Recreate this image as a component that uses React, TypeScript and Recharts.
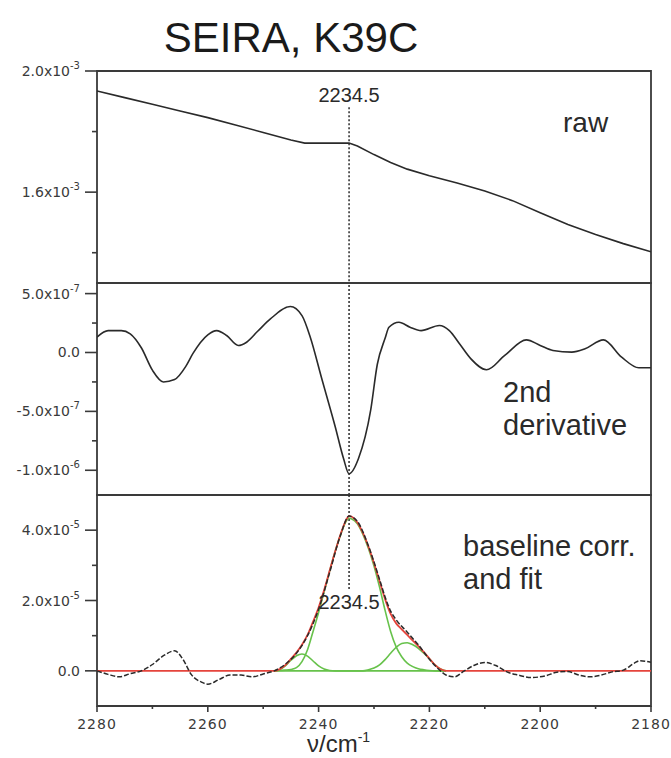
import React from "react";
import { LineChart, Line, XAxis, YAxis, ReferenceLine, ReferenceArea } from "recharts";

// wavenumber axis (cm-1), drawn high -> low
const X_DOMAIN: [number, number] = [2180, 2280];
const X_TICKS = [2280, 2270, 2260, 2250, 2240, 2230, 2220, 2210, 2200, 2190, 2180];
const X_LABELED = [2280, 2260, 2240, 2220, 2200, 2180];
const PEAK = 2234.5;

// raw spectrum, units of 10^-3
const rawSpectrum: [number, number][] = [
  [2280, 1.934], [2275, 1.912], [2270, 1.89], [2265, 1.868], [2260, 1.846], [2255, 1.822],
  [2250, 1.797], [2245, 1.772], [2242.5, 1.762], [2234.5, 1.762], [2233, 1.752], [2230, 1.724],
  [2227, 1.698], [2224, 1.676], [2220, 1.654], [2215, 1.63], [2210, 1.604], [2205, 1.572],
  [2200, 1.532], [2195, 1.493], [2190, 1.46], [2185, 1.43], [2180, 1.403],
];
const RAW_DOMAIN: [number, number] = [1.3, 2.0];
const RAW_TICKS = [1.4, 1.6, 1.8, 2.0];
const RAW_LABELED = [1.6, 2.0];

// second derivative, units of 10^-7
const secondDerivative: [number, number][] = [
  [2280, 1.3], [2278, 1.86], [2275.6, 1.86], [2274, 1.58], [2272, 0.4], [2270, -1.5], [2268, -2.5],
  [2266, -2.3], [2264, -1.2], [2262.7, -0.1], [2260, 1.5], [2258.4, 1.86], [2256.6, 1.44],
  [2254.5, 0.59], [2253, 0.87], [2251, 1.8], [2248.7, 2.85], [2245.1, 3.9], [2243, 3.13],
  [2241.5, 1.3], [2239.5, -2.1], [2237, -6.3], [2235.5, -9.0], [2234.5, -10.3], [2232.8, -9.0],
  [2230.6, -4.9], [2229.4, -1.0], [2228, 1.2], [2227.3, 2.14], [2225.5, 2.57], [2223.5, 2.15],
  [2221.5, 1.86], [2218.2, 2.29], [2216.4, 1.86], [2214.5, 0.7], [2212.5, -0.54], [2209.7, -1.47],
  [2206.4, -0.25], [2202.5, 1.07], [2200, 0.6], [2197.7, 0.17], [2194.3, 0.03], [2191.9, 0.31],
  [2188.6, 1.07], [2185.3, -0.4], [2182.2, -1.3], [2180, -1.3],
];
const DERIV_DOMAIN: [number, number] = [-12.1, 5.9];
const DERIV_TICKS = [5, 2.5, 0, -2.5, -5, -7.5, -10];
const DERIV_LABELED = [5, 0, -5, -10];

// baseline corrected absorbance, units of 10^-5
const corrected: [number, number][] = [
  [2280, 0], [2278, -0.1], [2276, -0.17], [2274, -0.08], [2272, 0], [2270, 0.18], [2268, 0.43],
  [2266, 0.57], [2264.5, 0.33], [2263, -0.1], [2261, -0.33], [2260, -0.38], [2258, -0.25],
  [2256, -0.12], [2254, -0.12], [2252, -0.17], [2250, -0.09], [2248, 0], [2246, 0.19], [2244, 0.5],
  [2242, 1.0], [2240, 1.75], [2238, 2.8], [2236, 3.88], [2234.5, 4.4], [2233, 4.25], [2231, 3.55],
  [2229, 2.6], [2228, 2.1], [2227, 1.7], [2226, 1.45], [2224, 1.1], [2222, 0.74], [2220, 0.33],
  [2218, 0], [2217, -0.12], [2215.5, -0.17], [2213.7, 0], [2212, 0.15], [2210, 0.24], [2208, 0.15],
  [2206, -0.03], [2204, -0.12], [2201.6, -0.19], [2199, -0.14], [2197, -0.04], [2195, -0.02],
  [2193, -0.12], [2191, -0.17], [2189, -0.12], [2187, -0.03], [2185, 0.02], [2183, 0.22],
  [2182, 0.29], [2180, 0.24],
];
const fitEnvelope: [number, number][] = [
  [2280, 0], [2248, 0], [2247, 0.05], [2246, 0.16], [2245, 0.34], [2244, 0.52], [2243, 0.74],
  [2242, 1.02], [2241, 1.4], [2240, 1.8], [2239, 2.3], [2238, 2.85], [2237, 3.4], [2236, 3.9],
  [2235, 4.3], [2234.5, 4.4], [2234, 4.38], [2233, 4.22], [2232, 3.92], [2231, 3.53], [2230, 3.06],
  [2229, 2.55], [2228, 2.04], [2227, 1.62], [2226, 1.35], [2225, 1.18], [2224, 1.02], [2223, 0.86],
  [2222, 0.7], [2221, 0.53], [2220, 0.35], [2219, 0.17], [2218, 0.05], [2217, 0], [2180, 0],
];
const bandLow: [number, number][] = [
  [2248, 0], [2247, 0.04], [2246, 0.14], [2245, 0.3], [2244, 0.43], [2243, 0.48], [2242, 0.42],
  [2241, 0.28], [2240, 0.14], [2239, 0.05], [2238, 0.01], [2237, 0], [2217, 0],
];
const bandMain: [number, number][] = [
  [2248, 0], [2247, 0.01], [2246, 0.02], [2245, 0.04], [2244, 0.09], [2243, 0.26], [2242, 0.6],
  [2241, 1.12], [2240, 1.66], [2239, 2.25], [2238, 2.84], [2237, 3.4], [2236, 3.88], [2235, 4.26],
  [2234.5, 4.34], [2234, 4.32], [2233, 4.18], [2232, 3.88], [2231, 3.48], [2230, 2.98], [2229, 2.38],
  [2228, 1.72], [2227, 1.12], [2226, 0.68], [2225, 0.4], [2224, 0.22], [2223, 0.12], [2222, 0.06],
  [2221, 0.03], [2220, 0.01], [2219, 0], [2217, 0],
];
const bandHigh: [number, number][] = [
  [2248, 0], [2232, 0], [2231, 0.03], [2230, 0.08], [2229, 0.17], [2228, 0.32], [2227, 0.5],
  [2226, 0.67], [2225, 0.78], [2224, 0.8], [2223, 0.74], [2222, 0.64], [2221, 0.5], [2220, 0.34],
  [2219, 0.17], [2218, 0.05], [2217, 0],
];
const CORR_DOMAIN: [number, number] = [-1, 5];
const CORR_TICKS = [4, 3, 2, 1, 0];
const CORR_LABELED = [4, 2, 0];

const SANS = '"Liberation Sans", Arial, sans-serif';
const TICK_FONT = '"DejaVu Sans", sans-serif';
const AXIS = "#3a3a3a";
const INK = "#2a2a2a";
const RED = "#e5443c";
const GREEN = "#67c24b";

const toPoints = (arr: [number, number][]) => arr.map(([x, y]) => ({ x, y }));

function sciLabel(v: number, exp: number) {
  if (v === 0) return { main: "0.0", sup: "" };
  let m = v;
  let e = exp;
  while (Math.abs(m) >= 10) {
    m /= 10;
    e += 1;
  }
  return { main: m.toFixed(1) + "x10", sup: String(e) };
}

const yTick = (labeled: number[], exp: number) => (props: any) => {
  const { x, y, payload } = props;
  const major = labeled.includes(payload.value);
  const lab = sciLabel(payload.value, exp);
  return (
    <g>
      <line x1={x - (major ? 12 : 5)} x2={x} y1={y} y2={y} stroke={AXIS} strokeWidth={1.6} />
      {major ? (
        <text x={x - 17} y={y + 5} textAnchor="end" fontFamily={TICK_FONT} fontSize={14} fill="#3a3a3a">
          {lab.main}
          {lab.sup ? (
            <tspan dy={-7} fontSize={10}>
              {lab.sup}
            </tspan>
          ) : null}
        </text>
      ) : null}
    </g>
  );
};

const xTick = (props: any) => {
  const { x, y, payload } = props;
  const major = X_LABELED.includes(payload.value);
  return (
    <g>
      <line x1={x} x2={x} y1={y} y2={y + (major ? 6 : 3)} stroke={AXIS} strokeWidth={1.6} />
      {major ? (
        <text x={x} y={y + 23} textAnchor="middle" fontFamily={TICK_FONT} fontSize={14} letterSpacing={1} fill="#3a3a3a">
          {payload.value}
        </text>
      ) : null}
    </g>
  );
};

const peakLabel = (position: "top" | "bottom") => ({
  value: "2234.5",
  position,
  fontSize: 20,
  fill: INK,
  fontFamily: SANS,
});

export default function App() {
  const margin = { top: 20, right: 20, bottom: 20, left: 0 };
  return (
    <div style={{ position: "fixed", left: 0, top: 0, width: 671, height: 758, background: "#fff", overflow: "hidden" }}>
      <div style={{ position: "absolute", left: 0, top: 51 }}>
        <LineChart width={671} height={252} margin={margin}>
          <XAxis type="number" dataKey="x" domain={X_DOMAIN} reversed hide allowDataOverflow />
          <YAxis type="number" domain={RAW_DOMAIN} ticks={RAW_TICKS} interval={0} width={97} axisLine={false}
            tickLine={false} tickSize={0} tickMargin={0} tick={yTick(RAW_LABELED, -3)} allowDataOverflow />
          <ReferenceArea x1={2280} x2={2180} y1={RAW_DOMAIN[0]} y2={RAW_DOMAIN[1]} fill="none" stroke={AXIS} strokeWidth={1.8} />
          <ReferenceLine segment={[{ x: PEAK, y: 1.88 }, { x: PEAK, y: RAW_DOMAIN[0] }]} stroke={INK}
            strokeWidth={1.5} strokeDasharray="2 2" label={peakLabel("top")} />
          <Line data={toPoints(rawSpectrum)} dataKey="y" type="linear" stroke={INK} strokeWidth={1.6} dot={false} isAnimationActive={false} />
        </LineChart>
      </div>

      <div style={{ position: "absolute", left: 0, top: 263 }}>
        <LineChart width={671} height={252} margin={margin}>
          <XAxis type="number" dataKey="x" domain={X_DOMAIN} reversed hide allowDataOverflow />
          <YAxis type="number" domain={DERIV_DOMAIN} ticks={DERIV_TICKS} interval={0} width={97} axisLine={false}
            tickLine={false} tickSize={0} tickMargin={0} tick={yTick(DERIV_LABELED, -7)} allowDataOverflow />
          <ReferenceArea x1={2280} x2={2180} y1={DERIV_DOMAIN[0]} y2={DERIV_DOMAIN[1]} fill="none" stroke={AXIS} strokeWidth={1.8} />
          <ReferenceLine x={PEAK} stroke={INK} strokeWidth={1.5} strokeDasharray="2 2" />
          <Line data={toPoints(secondDerivative)} dataKey="y" type="monotone" stroke={INK} strokeWidth={1.6} dot={false} isAnimationActive={false} />
        </LineChart>
      </div>

      <div style={{ position: "absolute", left: 0, top: 475 }}>
        <LineChart width={671} height={283} margin={{ top: 20, right: 20, bottom: 2, left: 0 }}>
          <XAxis type="number" dataKey="x" domain={X_DOMAIN} reversed ticks={X_TICKS} interval={0} height={50}
            axisLine={false} tickLine={false} tickSize={0} tickMargin={0} tick={xTick} allowDataOverflow />
          <YAxis type="number" domain={CORR_DOMAIN} ticks={CORR_TICKS} interval={0} width={97} axisLine={false}
            tickLine={false} tickSize={0} tickMargin={0} tick={yTick(CORR_LABELED, -5)} allowDataOverflow />
          <ReferenceArea x1={2280} x2={2180} y1={CORR_DOMAIN[0]} y2={CORR_DOMAIN[1]} fill="none" stroke={AXIS} strokeWidth={1.8} />
          <ReferenceLine segment={[{ x: PEAK, y: CORR_DOMAIN[1] }, { x: PEAK, y: 2.3 }]} stroke={INK}
            strokeWidth={1.5} strokeDasharray="2 2" label={peakLabel("bottom")} />
          <Line data={toPoints(bandLow)} dataKey="y" type="monotone" stroke={GREEN} strokeWidth={1.6} dot={false} isAnimationActive={false} />
          <Line data={toPoints(bandHigh)} dataKey="y" type="monotone" stroke={GREEN} strokeWidth={1.6} dot={false} isAnimationActive={false} />
          <Line data={toPoints(bandMain)} dataKey="y" type="monotone" stroke={GREEN} strokeWidth={1.6} dot={false} isAnimationActive={false} />
          <Line data={toPoints(fitEnvelope)} dataKey="y" type="monotone" stroke={RED} strokeWidth={1.8} dot={false} isAnimationActive={false} />
          <Line data={toPoints(corrected)} dataKey="y" type="monotone" stroke={INK} strokeWidth={1.5}
            strokeDasharray="5 2" dot={false} isAnimationActive={false} />
        </LineChart>
      </div>

      <svg width={671} height={758} style={{ position: "absolute", left: 0, top: 0, pointerEvents: "none" }}>
        <text x={291} y={52} textAnchor="middle" fontFamily={SANS} fontSize={42} fill="#1a1a1a">SEIRA, K39C</text>
        <text x={563} y={132} fontFamily={SANS} fontSize={28} fill={INK}>raw</text>
        <text x={503} y={402} fontFamily={SANS} fontSize={29} fill={INK}>2nd</text>
        <text x={503} y={435} fontFamily={SANS} fontSize={29} fill={INK}>derivative</text>
        <text x={463} y={556} fontFamily={SANS} fontSize={29} fill={INK}>baseline corr.</text>
        <text x={463} y={589} fontFamily={SANS} fontSize={29} fill={INK}>and fit</text>
        <text x={307} y={752} fontFamily={SANS} fontSize={24} fill={INK}>
          ν/cm
          <tspan dy={-10} fontSize={14}>-1</tspan>
        </text>
      </svg>
    </div>
  );
}
